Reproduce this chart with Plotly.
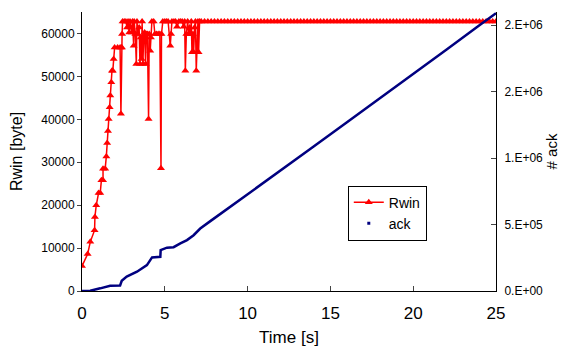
import plotly.graph_objects as go

# ---- Rwin (left axis) : dynamic phase ----
rwin_t = [0.00, 0.34, 0.50, 0.76, 0.78, 0.86, 1.00, 1.10, 1.17, 1.27, 1.27, 1.40, 1.47, 1.52, 1.57,
          1.61, 1.67, 1.71, 1.77, 1.81, 1.86, 1.91, 1.97, 2.15, 2.30, 2.35, 2.37, 2.41, 2.42, 2.45,
          2.55, 2.65, 2.72, 2.78, 2.85, 2.90, 2.95, 3.02, 3.05, 3.12, 3.15, 3.22, 3.28, 3.32, 3.38,
          3.45, 3.50, 3.55, 3.60, 3.63, 3.68, 3.72, 3.78, 3.84, 3.88, 3.95, 4.02, 4.06, 4.12, 4.16,
          4.22, 4.33, 4.40, 4.50, 4.60, 4.70, 4.77, 4.80, 4.88, 5.00, 5.10, 5.20, 5.33, 5.38, 5.43,
          5.55, 5.65, 5.74, 5.85, 5.95, 6.05, 6.14, 6.20, 6.24, 6.30, 6.38, 6.44, 6.50, 6.54, 6.60,
          6.64, 6.70, 6.74, 6.80, 6.85, 6.90, 6.95, 7.00, 7.04, 7.10]
rwin_v = [5800, 8600, 11450, 14170, 17260, 19980, 22830, 22830, 25780, 25780, 28500, 28500, 31360, 34500, 37300,
          40100, 42800, 45530, 48620, 51340, 51340, 54050, 56750, 56750, 56750, 41280, 56750, 56750, 59860, 62780,
          62780, 62780, 61400, 62780, 60230, 62780, 61400, 60230, 62780, 57140, 62780, 59860, 52880, 62780, 59860,
          61400, 52880, 59070, 54050, 62780, 52880, 59070, 60230, 52880, 59860, 59860, 40100, 59860, 56000, 59070,
          62780, 62780, 59860, 59860, 59860, 59860, 28570, 59860, 62780, 62780, 62780, 62780, 57140, 59860, 62780,
          62780, 62780, 61560, 62780, 62780, 62780, 61560, 62780, 51340, 59860, 62780, 59860, 61400, 59860, 62780,
          55600, 59860, 55600, 61400, 62780, 51340, 55600, 62780, 55600, 62780]

# ---- Rwin : steady phase (constant full window, sampled every 0.2 s) ----
rwin_steady_t = [round(7.2 + 0.2 * i, 2) for i in range(90)]
rwin_steady_v = [62780] * len(rwin_steady_t)

# ---- cumulative ack count (right axis) ----
ack_t = [0.0, 0.5, 1.1, 1.7, 2.3, 2.4, 2.7, 3.32, 3.92, 4.23, 4.73, 4.75, 5.13, 5.53, 5.94,
         6.34, 6.74, 7.14, 7.75, 8.75, 10.77, 13.8, 16.0, 18.0, 20.0, 22.0, 24.0, 25.0]
ack_v = [0, 2000, 20000, 40000, 42000, 77000, 108000, 145000, 195000, 253000, 258000, 308000, 326000, 330000, 358000,
         383000, 420000, 470000, 526000, 615000, 797000, 1070000, 1270000, 1450000, 1635000, 1815000, 2000000, 2090000]

# ---- axis ticks ----
x_ticks = [0, 5, 10, 15, 20, 25]
y_ticks = [0, 10000, 20000, 30000, 40000, 50000, 60000]
y2_ticks = [0, 500000, 1000000, 1500000, 2000000]
y2_labels = ["0.E+00", "5.E+05", "1.E+06", "2.E+06", "2.E+06"]

FONT = "Liberation Sans"
RED = "#FF0000"
NAVY = "#000080"

fig = go.Figure()

fig.add_trace(go.Scatter(
    x=rwin_t + rwin_steady_t, y=rwin_v + rwin_steady_v,
    mode="lines+markers", name="Rwin",
    line=dict(color=RED, width=1.5),
    marker=dict(symbol="triangle-up", size=7, color=RED),
    yaxis="y"))

fig.add_trace(go.Scatter(
    x=ack_t, y=ack_v, mode="lines", name="ack", showlegend=False,
    line=dict(color=NAVY, width=2.5), yaxis="y2"))

fig.add_trace(go.Scatter(
    x=[None], y=[None], mode="markers", name="ack",
    marker=dict(symbol="square", size=3, color=NAVY), yaxis="y2"))

fig.update_layout(
    width=558, height=339,
    margin=dict(l=74, r=70, t=4, b=56),
    paper_bgcolor="white", plot_bgcolor="white",
    font=dict(family=FONT, color="black"),
    xaxis=dict(range=[0, 25], tickvals=x_ticks, ticks="inside", ticklen=5,
               showline=True, linecolor="black", linewidth=1, showgrid=False, zeroline=False,
               tickfont=dict(size=17), automargin=False, ticklabelstandoff=7,
               title=dict(text="Time [s]", font=dict(size=17), standoff=9)),
    yaxis=dict(range=[0, 65000], tickvals=y_ticks, tickformat="d", ticks="outside", ticklen=4,
               showline=True, linecolor="black", linewidth=1, showgrid=False, zeroline=False,
               tickfont=dict(size=12), automargin=False,
               title=dict(text="Rwin [byte]", font=dict(size=16), standoff=14)),
    yaxis2=dict(range=[0, 2100000], tickvals=y2_ticks, ticktext=y2_labels, overlaying="y",
                side="right", ticks="inside", ticklen=5, ticklabelstandoff=5,
                showline=True, linecolor="black", linewidth=1, showgrid=False, zeroline=False,
                tickfont=dict(size=12), automargin=False,
                title=dict(text="# ack", font=dict(size=15), standoff=2)),
    legend=dict(x=0.642, y=0.378, xanchor="left", yanchor="top",
                bordercolor="black", borderwidth=1, bgcolor="white",
                font=dict(size=14), itemwidth=30, tracegroupgap=0),
    showlegend=True,
)

fig.write_html("out.html")
